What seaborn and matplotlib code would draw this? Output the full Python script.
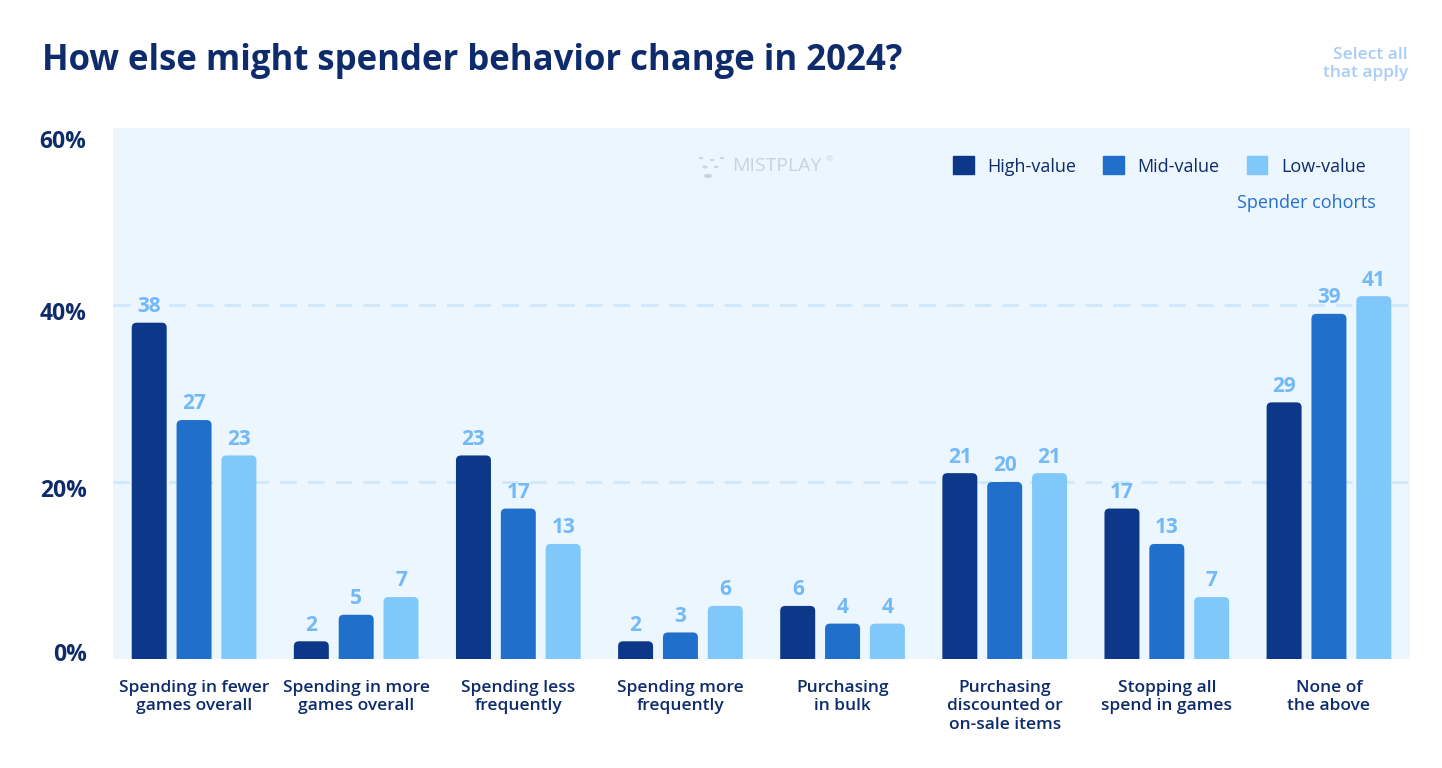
import pandas as pd
import matplotlib
matplotlib.use("Agg")
import matplotlib.pyplot as plt
import seaborn as sns
from matplotlib.patches import FancyBboxPatch, Circle
from matplotlib.transforms import ScaledTranslation

# Data
categories = [
    "Spending in fewer\ngames overall",
    "Spending in more\ngames overall",
    "Spending less\nfrequently",
    "Spending more\nfrequently",
    "Purchasing\nin bulk",
    "Purchasing\ndiscounted or\non-sale items",
    "Stopping all\nspend in games",
    "None of\nthe above",
]
cohorts = ["High-value", "Mid-value", "Low-value"]
high_value = [38, 2, 23, 2, 6, 21, 17, 29]
mid_value = [27, 5, 17, 3, 4, 20, 13, 39]
low_value = [23, 7, 13, 6, 4, 21, 7, 41]
y_ticks = [0, 20, 40, 60]
y_tick_labels = ["0%", "20%", "40%", "60%"]

# Colours
NAVY = "#0E2B6C"
COLORS = ["#0D388A", "#1F6FCB", "#80C8FA"]
PANEL = "#EBF6FE"
LABEL_BLUE = "#74B9F7"
GRID = "#CFE7FB"

df = pd.DataFrame({
    "category": categories * 3,
    "cohort": [c for c in cohorts for _ in categories],
    "value": high_value + mid_value + low_value,
})

sns.set_style("white")
plt.rcParams["font.family"] = ["Open Sans", "DejaVu Sans"]

W, H = 1442, 768
fig = plt.figure(figsize=(W / 100, H / 100), dpi=100)
ax = fig.add_axes([113 / W, 1 - 659 / H, (1410 - 113) / W, (659 - 128) / H])
ax.set_facecolor(PANEL)

sns.barplot(data=df, x="category", y="value", hue="cohort", hue_order=cohorts,
            palette=COLORS, width=0.83, gap=0.22, saturation=1, ax=ax,
            legend=False, zorder=3)

ax.set_xlim(-0.5, 7.5)
ax.set_ylim(0, 60)
for y in [20, 40]:
    ax.axhline(y, color=GRID, lw=2, ls=(0, (6, 4)), zorder=1)

for s in ax.spines.values():
    s.set_visible(False)
ax.set_xlabel("")
ax.set_ylabel("")
ax.tick_params(axis="both", length=0)
ax.tick_params(axis="x", pad=15)
ax.tick_params(axis="y", pad=19)
ax.set_xticks(range(len(categories)))
ax.set_xticklabels(categories, fontsize=12.5, color=NAVY, fontweight="semibold",
                   linespacing=1.22)
ax.set_yticks(y_ticks)
ax.set_yticklabels(y_tick_labels, fontsize=16.5, color=NAVY, fontweight="bold")
offsets = [-7, 6, 6, 11]
for lab, off in zip(ax.get_yticklabels(), offsets):
    lab.set_transform(lab.get_transform() + ScaledTranslation(0, -off / 100, fig.dpi_scale_trans))

# value labels
for cont in ax.containers:
    ax.bar_label(cont, fmt="%d", padding=4, color=LABEL_BLUE, fontsize=15,
                 fontweight="bold", zorder=5)

# replace bars with top-rounded versions
fig.canvas.draw()
px_x = ax.transData.transform((1, 0))[0] - ax.transData.transform((0, 0))[0]
px_y = ax.transData.transform((0, 1))[1] - ax.transData.transform((0, 0))[1]
r_px = 5
rx = r_px / px_x
ry = r_px / px_y
for cont, col in zip(ax.containers, COLORS):
    for bar in cont.patches:
        x, w, h = bar.get_x(), bar.get_width(), bar.get_height()
        bar.set_visible(False)
        rb = FancyBboxPatch((x, -ry * 2), w, h + ry * 2,
                            boxstyle=f"round,pad=0,rounding_size={rx}",
                            mutation_aspect=px_x / px_y,
                            facecolor=col, edgecolor="none", zorder=3)
        ax.add_patch(rb)

# title and notes
fig.text(42 / W, 1 - 61 / H, "How else might spender behavior change in 2024?",
         fontsize=25, fontweight="bold", color=NAVY, va="center", ha="left")
fig.text(1408 / W, 1 - 64 / H, "Select all\nthat apply", fontsize=12.5,
         color="#A8CCF8", ha="right", va="center", linespacing=1.15,
         fontweight="semibold")

# legend
handles = [plt.Rectangle((0, 0), 1, 1, color=c) for c in COLORS]
leg = fig.legend(handles, cohorts, loc="center right",
                 bbox_to_anchor=(1382 / W, 1 - 166 / H), ncol=3, frameon=False,
                 handlelength=1.15, handleheight=1.15, handletextpad=0.75,
                 columnspacing=1.5, fontsize=13)
for t in leg.get_texts():
    t.set_color(NAVY)
fig.text(1376 / W, 1 - 203 / H, "Spender cohorts", fontsize=13, color="#2470CF",
         ha="right", va="center")

# logo
logo_dots = [(701, 158, 2.2), (712, 160, 2.2), (722, 158, 2.2), (705, 167, 2.6),
             (716, 167, 2.2), (708, 176, 4)]
for dx, dy, rr in logo_dots:
    fig.patches.append(Circle((dx / W, 1 - dy / H), rr / W, transform=fig.transFigure,
                              facecolor="#C9D2DF", edgecolor="none"))
fig.text(732 / W, 1 - 166 / H, "MISTPLAY", fontsize=14, color="#C9D2DF",
         ha="left", va="center")
fig.text(826 / W, 1 - 160 / H, "®", fontsize=6, color="#C9D2DF", ha="left", va="center")

fig.savefig("out.png", dpi=100, facecolor="white")
